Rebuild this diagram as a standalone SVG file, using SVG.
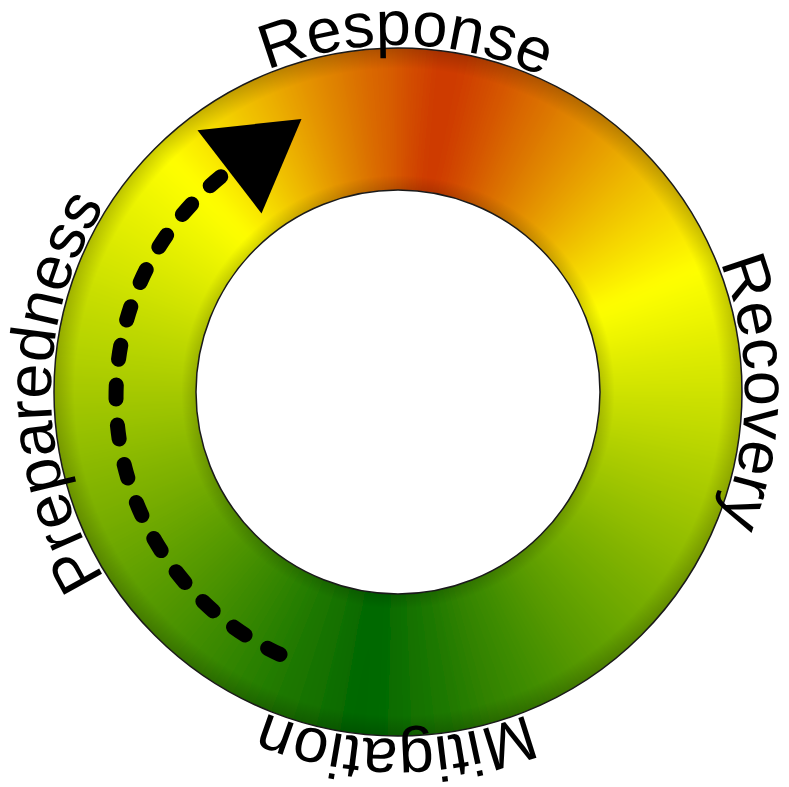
<svg xmlns="http://www.w3.org/2000/svg" width="789" height="787" viewBox="0 0 789 787">
  <style>
    .label { font-family: "Liberation Sans", Arial, sans-serif; font-size: 63px; fill: #000; }
    .edge { fill: none; stroke: #1a1a1a; stroke-width: 1.5; }
    .dash { fill: none; stroke: #000; stroke-width: 15; stroke-linecap: round; stroke-dasharray: 14 26; }
  </style>
  <defs>
    <path id="w" d="M0,0 L-16.9,-420 L16.9,-420 Z"/>
    <filter id="soft" x="-20%" y="-20%" width="140%" height="140%">
      <feGaussianBlur stdDeviation="9"/>
    </filter>
    <clipPath id="outerClip">
      <circle cx="398" cy="392" r="344"/>
    </clipPath>
    <radialGradient id="shade" cx="398" cy="392" r="344" gradientUnits="userSpaceOnUse">
      <stop offset="0" stop-color="#000" stop-opacity="0"/>
      <stop offset="0.587" stop-color="#000" stop-opacity="0.16"/>
      <stop offset="0.63" stop-color="#000" stop-opacity="0"/>
      <stop offset="0.94" stop-color="#000" stop-opacity="0"/>
      <stop offset="1" stop-color="#000" stop-opacity="0.2"/>
    </radialGradient>
    <path id="textCircleA" d="M398,739 A347,347 0 1 1 398,45 A347,347 0 1 1 398,739"/>
    <path id="textCircleB" d="M398,45 A347,347 0 1 1 398,739 A347,347 0 1 1 398,45"/>
  </defs>

  <g id="ring">
    <g clip-path="url(#outerClip)">
      <g filter="url(#soft)">
        <g transform="translate(398 392)">
          <use href="#w" transform="rotate(0)" fill="#d55600"/>
          <use href="#w" transform="rotate(4)" fill="#d14600"/>
          <use href="#w" transform="rotate(8)" fill="#cd3700"/>
          <use href="#w" transform="rotate(12)" fill="#cf3d00"/>
          <use href="#w" transform="rotate(16)" fill="#d24b00"/>
          <use href="#w" transform="rotate(20)" fill="#d65900"/>
          <use href="#w" transform="rotate(24)" fill="#d96700"/>
          <use href="#w" transform="rotate(28)" fill="#dc7500"/>
          <use href="#w" transform="rotate(32)" fill="#e08300"/>
          <use href="#w" transform="rotate(36)" fill="#e39000"/>
          <use href="#w" transform="rotate(40)" fill="#e79e00"/>
          <use href="#w" transform="rotate(44)" fill="#eaac00"/>
          <use href="#w" transform="rotate(48)" fill="#eeba00"/>
          <use href="#w" transform="rotate(52)" fill="#f1c800"/>
          <use href="#w" transform="rotate(56)" fill="#f5d600"/>
          <use href="#w" transform="rotate(60)" fill="#f8e300"/>
          <use href="#w" transform="rotate(64)" fill="#fcf100"/>
          <use href="#w" transform="rotate(68)" fill="#ffff00"/>
          <use href="#w" transform="rotate(72)" fill="#f6fa00"/>
          <use href="#w" transform="rotate(76)" fill="#eef500"/>
          <use href="#w" transform="rotate(80)" fill="#e5ef00"/>
          <use href="#w" transform="rotate(84)" fill="#dcea00"/>
          <use href="#w" transform="rotate(88)" fill="#d4e500"/>
          <use href="#w" transform="rotate(92)" fill="#cbe000"/>
          <use href="#w" transform="rotate(96)" fill="#c3db00"/>
          <use href="#w" transform="rotate(100)" fill="#bad600"/>
          <use href="#w" transform="rotate(104)" fill="#b1d000"/>
          <use href="#w" transform="rotate(108)" fill="#a9cb00"/>
          <use href="#w" transform="rotate(112)" fill="#a0c600"/>
          <use href="#w" transform="rotate(116)" fill="#97c100"/>
          <use href="#w" transform="rotate(120)" fill="#8fbc00"/>
          <use href="#w" transform="rotate(124)" fill="#86b600"/>
          <use href="#w" transform="rotate(128)" fill="#7db100"/>
          <use href="#w" transform="rotate(132)" fill="#75ac00"/>
          <use href="#w" transform="rotate(136)" fill="#6ca700"/>
          <use href="#w" transform="rotate(140)" fill="#63a200"/>
          <use href="#w" transform="rotate(144)" fill="#5b9c00"/>
          <use href="#w" transform="rotate(148)" fill="#529700"/>
          <use href="#w" transform="rotate(152)" fill="#499200"/>
          <use href="#w" transform="rotate(156)" fill="#418d00"/>
          <use href="#w" transform="rotate(160)" fill="#388800"/>
          <use href="#w" transform="rotate(164)" fill="#308200"/>
          <use href="#w" transform="rotate(168)" fill="#277d00"/>
          <use href="#w" transform="rotate(172)" fill="#1e7800"/>
          <use href="#w" transform="rotate(176)" fill="#167300"/>
          <use href="#w" transform="rotate(180)" fill="#0d6e00"/>
          <use href="#w" transform="rotate(184)" fill="#046900"/>
          <use href="#w" transform="rotate(188)" fill="#046800"/>
          <use href="#w" transform="rotate(192)" fill="#0c6d00"/>
          <use href="#w" transform="rotate(196)" fill="#147200"/>
          <use href="#w" transform="rotate(200)" fill="#1b7600"/>
          <use href="#w" transform="rotate(204)" fill="#237b00"/>
          <use href="#w" transform="rotate(208)" fill="#2b8000"/>
          <use href="#w" transform="rotate(212)" fill="#338500"/>
          <use href="#w" transform="rotate(216)" fill="#3b8900"/>
          <use href="#w" transform="rotate(220)" fill="#438e00"/>
          <use href="#w" transform="rotate(224)" fill="#4b9300"/>
          <use href="#w" transform="rotate(228)" fill="#529700"/>
          <use href="#w" transform="rotate(232)" fill="#5a9c00"/>
          <use href="#w" transform="rotate(236)" fill="#62a100"/>
          <use href="#w" transform="rotate(240)" fill="#6aa600"/>
          <use href="#w" transform="rotate(244)" fill="#72aa00"/>
          <use href="#w" transform="rotate(248)" fill="#7aaf00"/>
          <use href="#w" transform="rotate(252)" fill="#81b400"/>
          <use href="#w" transform="rotate(256)" fill="#89b800"/>
          <use href="#w" transform="rotate(260)" fill="#91bd00"/>
          <use href="#w" transform="rotate(264)" fill="#99c200"/>
          <use href="#w" transform="rotate(268)" fill="#a1c600"/>
          <use href="#w" transform="rotate(272)" fill="#a9cb00"/>
          <use href="#w" transform="rotate(276)" fill="#b1d000"/>
          <use href="#w" transform="rotate(280)" fill="#b8d500"/>
          <use href="#w" transform="rotate(284)" fill="#c0d900"/>
          <use href="#w" transform="rotate(288)" fill="#c8de00"/>
          <use href="#w" transform="rotate(292)" fill="#d0e300"/>
          <use href="#w" transform="rotate(296)" fill="#d8e700"/>
          <use href="#w" transform="rotate(300)" fill="#e0ec00"/>
          <use href="#w" transform="rotate(304)" fill="#e7f100"/>
          <use href="#w" transform="rotate(308)" fill="#eff600"/>
          <use href="#w" transform="rotate(312)" fill="#f7fa00"/>
          <use href="#w" transform="rotate(316)" fill="#ffff00"/>
          <use href="#w" transform="rotate(320)" fill="#fbf000"/>
          <use href="#w" transform="rotate(324)" fill="#f7e000"/>
          <use href="#w" transform="rotate(328)" fill="#f3d100"/>
          <use href="#w" transform="rotate(332)" fill="#f0c100"/>
          <use href="#w" transform="rotate(336)" fill="#ecb200"/>
          <use href="#w" transform="rotate(340)" fill="#e8a300"/>
          <use href="#w" transform="rotate(344)" fill="#e49300"/>
          <use href="#w" transform="rotate(348)" fill="#e08400"/>
          <use href="#w" transform="rotate(352)" fill="#dc7400"/>
          <use href="#w" transform="rotate(356)" fill="#d96500"/>
        </g>
      </g>
      <circle cx="398" cy="392" r="344" fill="url(#shade)"/>
    </g>
    <circle class="edge" cx="398" cy="392" r="344"/>
    <circle cx="398" cy="392" r="202" fill="#fff" stroke="#1a1a1a" stroke-width="1.5"/>
  </g>

  <g id="connectors">
    <path class="dash" d="M280,654.4 A284,284 0 0 1 221.3,176.3"/>
    <polygon points="197.5,130.2 301.5,119 261.5,213.4" fill="#000"/>
  </g>

  <g id="label-response">
    <text class="label" text-anchor="middle"><textPath href="#textCircleA" startOffset="50.36%">Response</textPath></text>
  </g>
  <g id="label-recovery">
    <text class="label" text-anchor="middle"><textPath href="#textCircleA" startOffset="75%">Recovery</textPath></text>
  </g>
  <g id="label-mitigation">
    <text class="label" text-anchor="middle"><textPath href="#textCircleB" startOffset="50.08%">Mitigation</textPath></text>
  </g>
  <g id="label-preparedness">
    <text class="label" text-anchor="middle"><textPath href="#textCircleA" startOffset="25%">Preparedness</textPath></text>
  </g>
</svg>
